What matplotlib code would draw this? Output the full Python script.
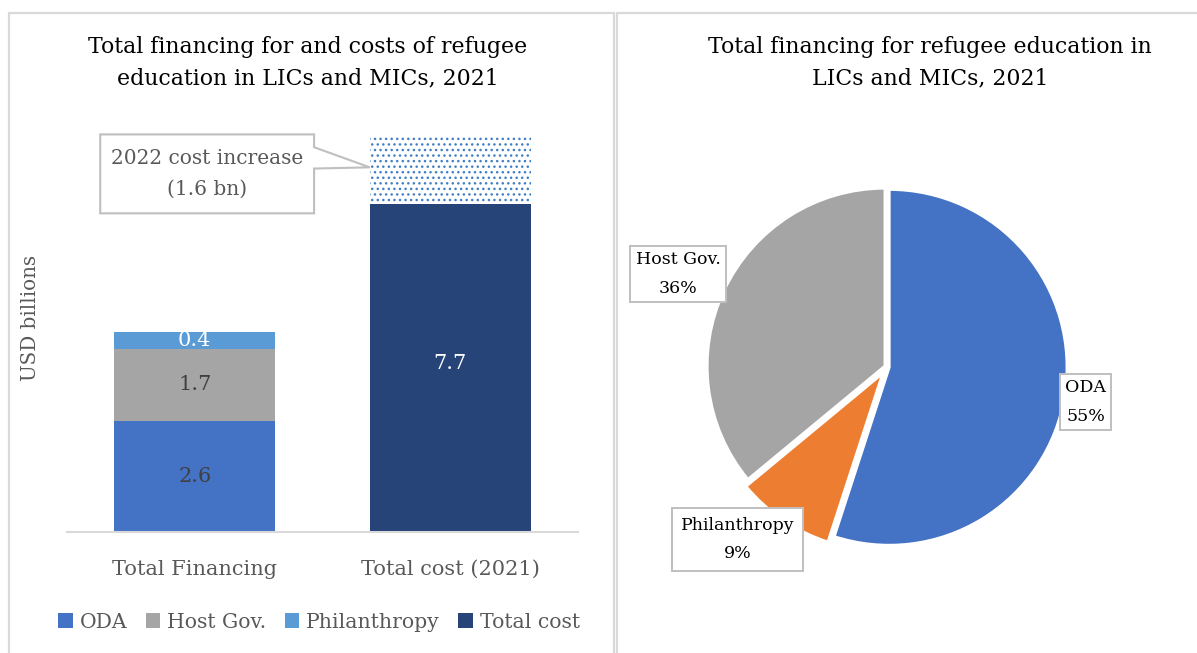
import matplotlib.pyplot as plt
from matplotlib.patches import Polygon, Rectangle

plt.rcParams['font.family'] = ['DejaVu Serif']

# Left chart: financing vs cost (USD billions)
categories = ['Total Financing', 'Total cost (2021)']
oda = [2.6, 0.0]
host_gov = [1.7, 0.0]
philanthropy = [0.4, 0.0]
total_cost = [0.0, 7.7]
cost_increase = [0.0, 1.6]

# Right chart: shares of financing (%)
pie_labels = ['ODA', 'Philanthropy', 'Host Gov.']
pie_shares = [55, 9, 36]

c_oda = '#4472C4'
c_host = '#A5A5A5'
c_phil = '#5B9BD5'
c_total = '#264478'
c_orange = '#ED7D31'
c_text = '#595959'
c_border = '#D9D9D9'

W, H = 1197, 653
fig = plt.figure(figsize=(W / 100, H / 100), dpi=100)

# panel frames
fig.patches.append(Rectangle((9 / W, -0.1), (614 - 9) / W, 1.1 - 13 / H,
                             transform=fig.transFigure, fill=False,
                             ec=c_border, lw=1.6))
fig.patches.append(Rectangle((617 / W, -0.1), 1.0, 1.1 - 13 / H,
                             transform=fig.transFigure, fill=False,
                             ec=c_border, lw=1.6))

# ---- stacked bars ----
ax = fig.add_axes([67 / W, (H - 532) / H, (578 - 67) / W, 401 / H])
x = [0, 1]
bw = 0.63
b1 = ax.bar(x, oda, bw, color=c_oda, label='ODA')
bot = [a for a in oda]
b2 = ax.bar(x, host_gov, bw, bottom=bot, color=c_host, label='Host Gov.')
bot = [a + b for a, b in zip(oda, host_gov)]
b3 = ax.bar(x, philanthropy, bw, bottom=bot, color=c_phil, label='Philanthropy')
b4 = ax.bar(x, total_cost, bw, color=c_total, label='Total cost')
ax.bar(x, cost_increase, bw, bottom=total_cost, color='white',
       edgecolor='#3F7FC6', hatch='...', lw=0)

# value labels in the middle of each segment
fs_val = 15
ax.text(0, oda[0] / 2, f'{oda[0]:.1f}', ha='center', va='center',
        fontsize=fs_val, color='#404040')
ax.text(0, oda[0] + host_gov[0] / 2, f'{host_gov[0]:.1f}', ha='center',
        va='center', fontsize=fs_val, color='#404040')
ax.text(0, oda[0] + host_gov[0] + philanthropy[0] / 2, f'{philanthropy[0]:.1f}',
        ha='center', va='center', fontsize=fs_val, color='white')
ax.text(1, total_cost[1] / 2 + 0.1, f'{total_cost[1]:.1f}', ha='center',
        va='center', fontsize=fs_val, color='white')

# callout for the 2022 increase
tip_x = 1 - bw / 2
tip_y = total_cost[1] + cost_increase[1] * 0.53
callout = [(-0.37, 9.32), (0.467, 9.32), (0.467, 9.02), (tip_x, tip_y),
           (0.467, 8.52), (0.467, 7.47), (-0.37, 7.47)]
ax.add_patch(Polygon(callout, closed=True, fc='white', ec='#BFBFBF',
                     lw=1.5, clip_on=False, zorder=3))
ax.text(0.048, 8.39, f'2022 cost increase\n({cost_increase[1]:.1f} bn)',
        ha='center', va='center', fontsize=14.5, color=c_text,
        linespacing=1.75, zorder=4)

ax.set_xlim(-0.5, 1.5)
ax.set_ylim(0, 9.4)
ax.set_xticks(x)
ax.set_xticklabels(categories, fontsize=15, color=c_text)
ax.tick_params(axis='x', length=0, pad=20)
ax.set_yticks([])
for s in ['top', 'left', 'right']:
    ax.spines[s].set_visible(False)
ax.spines['bottom'].set_color(c_border)
ax.spines['bottom'].set_linewidth(1.5)

fig.text(30 / W, 1 - 318 / H, 'USD billions', rotation=90, ha='center',
         va='center', fontsize=14.3, color=c_text)
fig.text(308 / W, 1 - 63 / H,
         'Total financing for and costs of refugee\neducation in LICs and MICs, 2021',
         ha='center', va='center', fontsize=15.8, linespacing=1.55)

fig.legend([b1, b2, b3, b4], ['ODA', 'Host Gov.', 'Philanthropy', 'Total cost'],
           loc='center', bbox_to_anchor=(319 / W, 1 - 622 / H), ncol=4,
           frameon=False, fontsize=14.7, labelcolor=c_text, handlelength=0.7,
           handleheight=0.7, handletextpad=0.35, columnspacing=0.9)

# ---- pie ----
cx, cy, r = 887, 367, 178
pax = fig.add_axes([(cx - 200) / W, (H - cy - 200) / H, 400 / W, 400 / H])
wedges, _ = pax.pie(pie_shares, colors=[c_oda, c_orange, c_host],
                    startangle=90, counterclock=False,
                    explode=[0.012, 0.04, 0.012],
                    wedgeprops=dict(edgecolor='white', linewidth=2.2))
lim = 200 / r
pax.set_xlim(-lim, lim)
pax.set_ylim(-lim, lim)

label_pos = {'ODA': (1.115, -0.197), 'Philanthropy': (-0.84, -0.969),
             'Host Gov.': (-1.174, 0.522)}
label_pad = {'ODA': 0.3, 'Philanthropy': 0.5, 'Host Gov.': 0.3}
for name, share in zip(pie_labels, pie_shares):
    px, py = label_pos[name]
    box = dict(boxstyle=f'square,pad={label_pad[name]}', fc='white',
               ec='#BFBFBF', lw=1.4)
    pax.text(px, py, f'{name}\n{share}%', ha='center', va='center',
             fontsize=12.5, linespacing=1.9, bbox=box, zorder=5)

fig.text(930 / W, 1 - 63 / H,
         'Total financing for refugee education in\nLICs and MICs, 2021',
         ha='center', va='center', fontsize=15.8, linespacing=1.55)

fig.savefig('out.png', dpi=100)
